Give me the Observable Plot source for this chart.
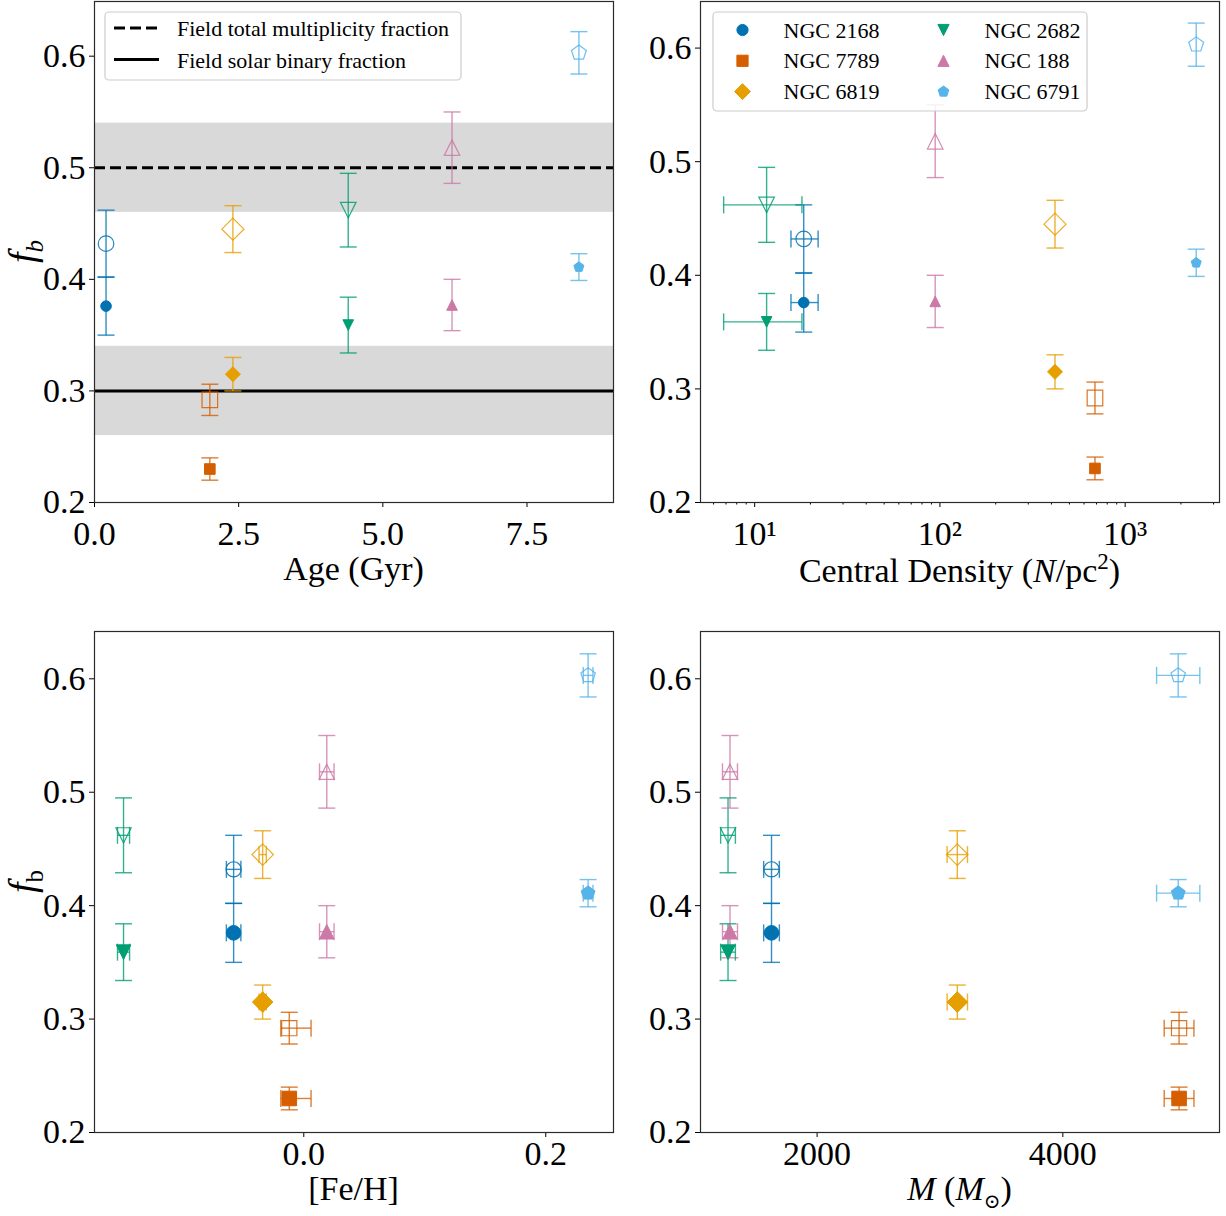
<!DOCTYPE html>
<html>
<head>
<meta charset="utf-8">
<script src="https://cdn.jsdelivr.net/npm/d3@7"></script>
<script src="https://cdn.jsdelivr.net/npm/@observablehq/plot@0.6"></script>
<style>
  body { margin: 0; background: #fff; }
  #fig { position: relative; width: 1226px; height: 1216px; background: #fff; }
  #fig svg { position: absolute; overflow: visible; max-width: none; }
</style>
</head>
<body>
<div id="fig"></div>
<script>
// ---- cluster data -------------------------------------------------------
const clusters       = ["NGC 2168", "NGC 7789", "NGC 6819", "NGC 2682", "NGC 188", "NGC 6791"];
const clusterColors  = ["#0072B2", "#D55E00", "#E69F00", "#009E73", "#CC79A7", "#56B4E9"];
const clusterMarkers = ["circle", "square", "diamond", "triangleDown", "triangleUp", "pentagon"];

// binary fraction (filled markers) and total multiplicity fraction (open markers)
const fbBinary    = [0.376, 0.230, 0.315, 0.359, 0.377, 0.411];
const fbBinaryErr = [0.026, 0.010, 0.015, 0.025, 0.023, 0.012];
const fbTotal     = [0.432, 0.292, 0.445, 0.462, 0.518, 0.603];
const fbTotalErr  = [0.030, 0.014, 0.021, 0.033, 0.032, 0.019];

// cluster properties
const ageGyr       = [0.2, 2.0, 2.4, 4.4, 6.2, 8.4];
const density      = [18.4, 687, 418, 11.6, 94.3, 2418];   // N / pc^2
const densityErrLo = [2.7, 0, 0, 4.8, 0, 0];
const densityErrHi = [3.6, 0, 0, 6.4, 0, 0];
const feh          = [-0.058, -0.012, -0.034, -0.149, 0.019, 0.235];
const fehErrLo     = [0.006, 0.007, 0.003, 0.005, 0.006, 0.004];
const fehErrHi     = [0.006, 0.018, 0.003, 0.005, 0.006, 0.004];
const massMsun     = [1629, 4946, 3141, 1275, 1291, 4939];
const massErr      = [64, 121, 83, 60, 61, 176];

// field reference fractions (with their uncertainty bands)
const fieldLabels    = ["Field total multiplicity fraction", "Field solar binary fraction"];
const fieldFractions = [0.5, 0.3];
const fieldSpread    = [0.04, 0.04];

// ticks
const fbTicks      = [0.2, 0.3, 0.4, 0.5, 0.6];
const ageTicks     = [0, 2.5, 5, 7.5];
const densityTicks = [10, 100, 1000];
const fehTicks     = [0, 0.2];
const massTicks    = [2000, 4000];

// ---- marker shapes (size = pi r^2, r = half the marker size) ------------
const SERIF = "'Liberation Serif', 'DejaVu Serif', serif";
const S2 = Math.SQRT2;
const half = size => Math.sqrt(size / Math.PI);
function polygon(pts) {
  return {draw(ctx, size) {
    const h = half(size);
    ctx.moveTo(pts[0][0] * h, pts[0][1] * h);
    for (let k = 1; k < pts.length; ++k) ctx.lineTo(pts[k][0] * h, pts[k][1] * h);
    ctx.closePath();
  }};
}
const shapes = {
  circle: {draw(ctx, size) { const h = half(size); ctx.moveTo(h, 0); ctx.arc(0, 0, h, 0, 2 * Math.PI); }},
  square: polygon([[-1, -1], [1, -1], [1, 1], [-1, 1]]),
  diamond: polygon([[0, -S2], [S2, 0], [0, S2], [-S2, 0]]),
  triangleUp: polygon([[0, -1], [1, 1], [-1, 1]]),
  triangleDown: polygon([[0, 1], [1, -1], [-1, -1]]),
  pentagon: polygon(d3.range(5).map(k => {
    const a = -Math.PI / 2 + k * 2 * Math.PI / 5;
    return [Math.cos(a), Math.sin(a)];
  })),
  hcap: {draw(ctx, size) { const h = half(size); ctx.moveTo(-h, 0); ctx.lineTo(h, 0); }},
  vcap: {draw(ctx, size) { const h = half(size); ctx.moveTo(0, -h); ctx.lineTo(0, h); }}
};
const CAP = 8.5;

// ---- one panel ------------------------------------------------------------
function panel(o) {
  const rows = [];
  clusters.forEach((name, i) => {
    [["filled", fbBinary, fbBinaryErr], ["open", fbTotal, fbTotalErr]].forEach(([kind, v, e]) => {
      rows.push({
        i, kind, hue: clusterColors[i],
        x: o.xv[i],
        xlo: o.xv[i] - (o.xLo ? o.xLo[i] : 0),
        xhi: o.xv[i] + (o.xHi ? o.xHi[i] : 0),
        y: v[i], ylo: v[i] - e[i], yhi: v[i] + e[i]
      });
    });
  });
  const xErrRows = rows.filter(d => d.xhi > d.xlo);
  const hue = d => d.hue;
  const err = {stroke: hue, strokeWidth: 1.4, strokeOpacity: 0.8};

  const marks = [...(o.extra || [])];
  marks.push(
    Plot.link(rows, {x1: "x", x2: "x", y1: "ylo", y2: "yhi", ...err}),
    Plot.dot(rows, {x: "x", y: "ylo", symbol: shapes.hcap, r: CAP, fill: "none", ...err}),
    Plot.dot(rows, {x: "x", y: "yhi", symbol: shapes.hcap, r: CAP, fill: "none", ...err}),
    Plot.link(xErrRows, {x1: "xlo", x2: "xhi", y1: "y", y2: "y", ...err}),
    Plot.dot(xErrRows, {x: "xlo", y: "y", symbol: shapes.vcap, r: CAP, fill: "none", ...err}),
    Plot.dot(xErrRows, {x: "xhi", y: "y", symbol: shapes.vcap, r: CAP, fill: "none", ...err})
  );
  clusters.forEach((name, i) => {
    const sym = shapes[clusterMarkers[i]];
    marks.push(
      Plot.dot(rows.filter(d => d.i === i && d.kind === "open"),
        {x: "x", y: "y", symbol: sym, r: o.rOpen, fill: "none", stroke: clusterColors[i], strokeWidth: 1.2, strokeOpacity: 0.85}),
      Plot.dot(rows.filter(d => d.i === i && d.kind === "filled"),
        {x: "x", y: "y", symbol: sym, r: o.rFilled, fill: clusterColors[i], stroke: clusterColors[i], strokeWidth: 1})
    );
  });
  marks.push(
    Plot.axisY({ticks: fbTicks, tickFormat: ".1f", tickSize: 5, tickPadding: 4, label: null, fontSize: 34}),
    Plot.axisX({ticks: o.xTicks, tickFormat: o.xTickFormat, tickSize: 5, tickPadding: o.tickPad, label: null, fontSize: 34})
  );
  if (o.minorTicks) marks.push(Plot.axisX({ticks: o.minorTicks, tickFormat: () => "", tickSize: 2.5, label: null}));
  marks.push(Plot.frame({stroke: "#2a2a2a", strokeWidth: 1.2}));

  const svg = Plot.plot({
    width: o.width, height: o.height,
    marginLeft: o.ml, marginRight: o.mr, marginTop: o.mt, marginBottom: o.mb,
    x: o.xScale,
    y: {domain: o.yDomain},
    color: {type: "identity"},
    style: {fontFamily: SERIF, fontSize: "34px", color: "black", background: "transparent", overflow: "visible"},
    marks
  });
  svg.style.left = o.left + "px";
  svg.style.top = o.top + "px";
  document.getElementById("fig").appendChild(svg);
  return svg;
}

// ---- text helpers -----------------------------------------------------------
function richText(svg, x, y, parts, size, rotate) {
  const t = d3.select(svg).append("text")
    .attr("transform", `translate(${x},${y})` + (rotate ? " rotate(-90)" : ""))
    .attr("text-anchor", "middle")
    .attr("font-family", SERIF).attr("font-size", size).attr("fill", "black");
  for (const p of parts) {
    const s = t.append("tspan").text(p.t);
    if (p.i) s.attr("font-style", "italic");
    if (p.size) s.attr("font-size", p.size);
    if (p.dy) s.attr("dy", p.dy);
  }
  return t;
}

// ---- layout ---------------------------------------------------------------
const TOP = {top: 0, height: 610, mt: 1, mb: 108, rFilled: 5.3, rOpen: 7.8, tickPad: 13};
const BOT = {top: 610, height: 606, mt: 21, mb: 84, rFilled: 7.3, rOpen: 7.6, tickPad: 3};
const LEFT = {left: 0, width: 616, ml: 94, mr: 3};
const RIGHT = {left: 616, width: 610, ml: 84, mr: 7};

// Age panel, with field reference fractions
const bands = fieldFractions.map((f, k) => ({lo: f - fieldSpread[k], hi: f + fieldSpread[k]}));
const svgAge = panel({
  ...TOP, ...LEFT,
  xv: ageGyr,
  xScale: {domain: [0, 9]},
  yDomain: [0.2, 0.649],
  xTicks: ageTicks, xTickFormat: ".1f",
  extra: [
    Plot.rect(bands, {y1: "lo", y2: "hi", fill: "#d9d9d9"}),
    Plot.ruleY([fieldFractions[0]], {stroke: "black", strokeWidth: 3, strokeDasharray: "11,5"}),
    Plot.ruleY([fieldFractions[1]], {stroke: "black", strokeWidth: 3})
  ]
});

// Central density panel (log axis)
const minorDensity = [];
for (const dec of [1, 10, 100, 1000]) for (let k = 2; k <= 9; ++k) {
  const v = k * dec;
  if (v > 5.1 && v < 3230) minorDensity.push(v);
}
const sup = "⁰¹²³⁴";
const svgDensity = panel({
  ...TOP, ...RIGHT,
  xv: density, xLo: densityErrLo, xHi: densityErrHi,
  xScale: {type: "log", domain: [5.1, 3230]},
  yDomain: [0.2, 0.641],
  xTicks: densityTicks, xTickFormat: d => "10" + sup[Math.round(Math.log10(d))],
  minorTicks: minorDensity
});

// Metallicity panel
const svgFeh = panel({
  ...BOT, ...LEFT,
  xv: feh, xLo: fehErrLo, xHi: fehErrHi,
  xScale: {domain: [-0.173, 0.256]},
  yDomain: [0.2, 0.6417],
  xTicks: fehTicks, xTickFormat: ".1f"
});

// Mass panel
const svgMass = panel({
  ...BOT, ...RIGHT,
  xv: massMsun, xLo: massErr, xHi: massErr,
  xScale: {domain: [1051, 5275]},
  yDomain: [0.2, 0.6417],
  xTicks: massTicks, xTickFormat: d => String(d)
});

// ---- axis labels ----------------------------------------------------------
const frameMidX = p => p.ml + (p.width - p.ml - p.mr) / 2;
const frameMidY = p => p.mt + (p.height - p.mt - p.mb) / 2;

richText(svgAge, 35, frameMidY(TOP), [{t: "f", i: true}, {t: "b", i: true, size: 25, dy: 8}], 38, true);
richText(svgFeh, 35, frameMidY(BOT), [{t: "f", i: true}, {t: "b", size: 25, dy: 8}], 38, true);

richText(svgAge, frameMidX(LEFT), 580, [{t: "Age (Gyr)"}], 34);
richText(svgDensity, frameMidX(RIGHT), 582, [
  {t: "Central Density ("}, {t: "N", i: true}, {t: "/pc"}, {t: "2", size: 23, dy: -13}, {t: ")", dy: 13}
], 34);
richText(svgFeh, frameMidX(LEFT), 590, [{t: "[Fe/H]"}], 34);
richText(svgMass, frameMidX(RIGHT), 590, [
  {t: "M", i: true}, {t: " ("}, {t: "M", i: true}, {t: "⊙", size: 20, dy: 8}, {t: ")", dy: -8}
], 34);

// ---- legends --------------------------------------------------------------
function legendBox(svg, x, y, w, h) {
  return d3.select(svg).append("rect")
    .attr("x", x).attr("y", y).attr("width", w).attr("height", h).attr("rx", 4)
    .attr("fill", "white").attr("fill-opacity", 0.85)
    .attr("stroke", "#cccccc").attr("stroke-width", 1.2);
}
function legendText(g, x, y, label) {
  g.append("text").attr("x", x).attr("y", y)
    .attr("text-anchor", "start")
    .attr("font-family", SERIF).attr("font-size", 22).attr("fill", "black").text(label);
}

// field-fraction legend
{
  const g = d3.select(svgAge);
  legendBox(svgAge, 105, 12, 356, 68);
  fieldLabels.forEach((label, k) => {
    const y = 28 + k * 31.5;
    g.append("line").attr("x1", 114).attr("x2", 159).attr("y1", y).attr("y2", y)
      .attr("stroke", "black").attr("stroke-width", 3)
      .attr("stroke-dasharray", k === 0 ? "11,5" : null);
    legendText(g, 177, y + 8, label);
  });
}

// cluster legend, two columns
{
  const g = d3.select(svgDensity);
  legendBox(svgDensity, 97, 12, 374, 99);
  clusters.forEach((name, i) => {
    const col = Math.floor(i / 3), row = i % 3;
    const mx = 126.5 + col * 201, y = 30 + row * 30.8;
    g.append("path")
      .attr("transform", `translate(${mx},${y})`)
      .attr("d", d3.symbol(shapes[clusterMarkers[i]], Math.PI * 5.6 * 5.6)())
      .attr("fill", clusterColors[i]).attr("stroke", clusterColors[i]).attr("stroke-width", 1);
    legendText(g, mx + 41, y + 7.5, name);
  });
}
</script>
</body>
</html>
